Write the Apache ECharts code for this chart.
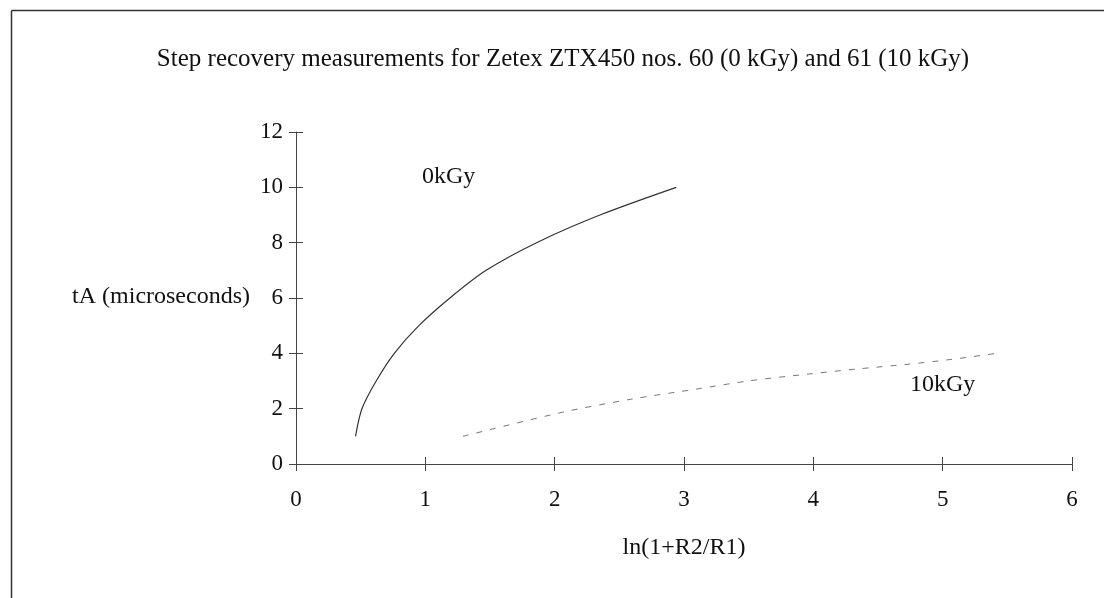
<!DOCTYPE html>
<html>
<head>
<meta charset="utf-8">
<script src="https://cdn.jsdelivr.net/npm/echarts@6/dist/echarts.min.js"></script>
<style>
  html, body { margin: 0; padding: 0; background: #fff; }
  #chart { width: 1104px; height: 598px; }
</style>
</head>
<body>
<div id="chart"></div>
<script>
// Step recovery time tA against ln(1+R2/R1) for two irradiation doses
const lnRatio0kGy = [0.46, 0.51, 0.62, 0.76, 0.95, 1.19, 1.47, 1.86, 2.35, 2.94];
const tA0kGy      = [1, 2, 3, 4, 5, 6, 7, 8, 9, 10];

const lnRatio10kGy = [1.29, 2.06, 2.60, 3.10, 3.51, 3.96, 4.33, 4.74, 5.03, 5.42];
const tA10kGy      = [1.0, 1.87, 2.35, 2.71, 3.01, 3.25, 3.43, 3.61, 3.76, 4.0];

const xTicks = [0, 1, 2, 3, 4, 5, 6];
const yTicks = [0, 2, 4, 6, 8, 10, 12];

const titleText = 'Step recovery measurements for Zetex ZTX450 nos. 60 (0 kGy) and 61 (10 kGy)';
const xName = 'ln(1+R2/R1)';
const yName = 'tA (microseconds)';
const curveNames = ['0kGy', '10kGy'];
// where each curve's name sits, in data units [x, y]
const curveLabelAt = [[1.18, 10.37], [5.0, 2.85]];

const FONT = '"Liberation Serif", "Times New Roman", serif';
const pair = (xs, ys) => xs.map((x, i) => [x, ys[i]]);

const chart = echarts.init(document.getElementById('chart'), null, { renderer: 'canvas' });

const tickStyle = { color: '#444', width: 1 };

chart.setOption({
  backgroundColor: '#fff',
  animation: false,
  title: {
    text: titleText,
    left: 558,
    top: 42,
    textAlign: 'center',
    textStyle: { fontFamily: FONT, fontSize: 25, fontWeight: 'normal', color: '#111' }
  },
  graphic: [
    // frame: top and left edges
    { type: 'line', shape: { x1: 11.5, y1: 10.5, x2: 1104, y2: 10.5 }, style: { stroke: '#333', lineWidth: 1.5 } },
    { type: 'line', shape: { x1: 11.5, y1: 10.5, x2: 11.5, y2: 598 }, style: { stroke: '#333', lineWidth: 1.5 } },
    {
      type: 'text', x: 250, y: 297,
      style: { text: yName, fontFamily: FONT, fontSize: 24, fill: '#111', textAlign: 'right', textVerticalAlign: 'middle' }
    }
  ],
  grid: { left: 296, right: 32, top: 132, bottom: 134 },
  xAxis: [
    {
      type: 'value', min: 0, max: 6, interval: 1,
      name: xName, nameLocation: 'middle', nameGap: 72,
      nameTextStyle: { fontFamily: FONT, fontSize: 24, color: '#111' },
      axisLine: { lineStyle: { color: '#444', width: 1 } },
      splitLine: { show: false },
      axisTick: { show: true, inside: false, length: 7, lineStyle: tickStyle },
      axisLabel: {
        fontFamily: FONT, fontSize: 23, color: '#111', margin: 24,
        formatter: v => (xTicks.includes(v) ? String(v) : '')
      }
    },
    {
      type: 'value', min: 0, max: 6, interval: 1, position: 'bottom',
      axisLine: { show: false }, splitLine: { show: false }, axisLabel: { show: false },
      axisTick: { show: true, inside: true, length: 7, lineStyle: tickStyle }
    }
  ],
  yAxis: [
    {
      type: 'value', min: 0, max: 12, interval: 2,
      axisLine: { lineStyle: { color: '#444', width: 1 } },
      splitLine: { show: false },
      axisTick: { show: true, inside: false, length: 7, lineStyle: tickStyle },
      axisLabel: {
        fontFamily: FONT, fontSize: 23, color: '#111', margin: 13,
        formatter: v => (yTicks.includes(v) ? String(v) : '')
      }
    },
    {
      type: 'value', min: 0, max: 12, interval: 2, position: 'left',
      axisLine: { show: false }, splitLine: { show: false }, axisLabel: { show: false },
      axisTick: { show: true, inside: true, length: 7, lineStyle: tickStyle }
    }
  ],
  series: [
    {
      name: curveNames[0], type: 'line', smooth: 0.3, showSymbol: false,
      data: pair(lnRatio0kGy, tA0kGy),
      lineStyle: { color: '#333', width: 1.2, type: 'solid' },
      markPoint: {
        symbol: 'circle', symbolSize: 0,
        label: { show: true, formatter: curveNames[0], fontFamily: FONT, fontSize: 24, color: '#111', position: 'inside' },
        data: [{ coord: curveLabelAt[0] }]
      }
    },
    {
      name: curveNames[1], type: 'line', smooth: 0.3, showSymbol: false,
      data: pair(lnRatio10kGy, tA10kGy),
      lineStyle: { color: '#777', width: 1, type: [6, 8] },
      markPoint: {
        symbol: 'circle', symbolSize: 0,
        label: { show: true, formatter: curveNames[1], fontFamily: FONT, fontSize: 24, color: '#111', position: 'inside' },
        data: [{ coord: curveLabelAt[1] }]
      }
    }
  ]
});
</script>
</body>
</html>
